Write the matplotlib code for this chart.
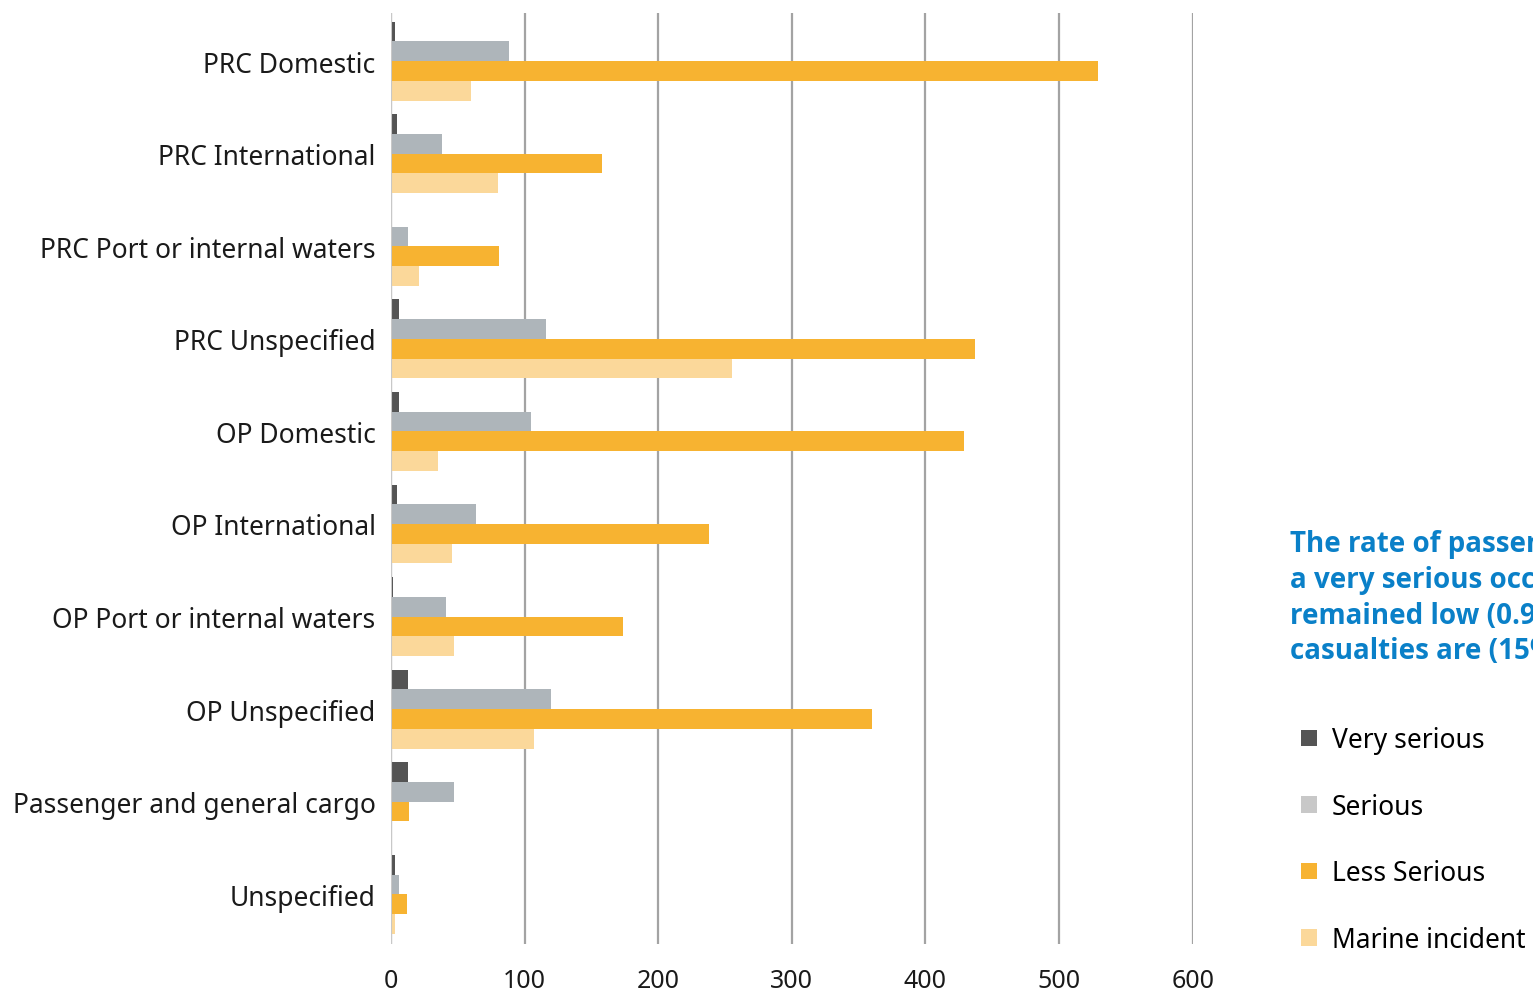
import numpy as np
import matplotlib
import matplotlib.pyplot as plt
from matplotlib.patches import Patch

matplotlib.rcParams.update({'font.size': 19, 'font.family': ['Noto Sans', 'DejaVu Sans']})

categories = ['PRC Domestic', 'PRC International', 'PRC Port or internal waters', 'PRC Unspecified',
              'OP Domestic', 'OP International', 'OP Port or internal waters', 'OP Unspecified',
              'Passenger and general cargo', 'Unspecified']
very_serious = [3, 4.5, 0, 6, 6, 4.5, 1.5, 13, 13, 3]
serious = [88, 38, 13, 116, 105, 64, 41, 120, 47, 6]
less_serious = [529, 158, 81, 437, 429, 238, 174, 360, 13.5, 12]
marine_incident = [60, 80, 21, 255, 35, 46, 47, 107, 0, 3]

series_names = ['Very serious', 'Serious', 'Less Serious', 'Marine incident']
bar_colors = ['#545454', '#aeb5ba', '#f7b331', '#fbd89a']
legend_colors = ['#545454', '#c8c8c8', '#f7b331', '#fbd89a']
x_ticks = [0, 100, 200, 300, 400, 500, 600]

note = ('The rate of passengers involved in\n'
        'a very serious occurrence has\n'
        'remained low (0.9%) while most\n'
        'casualties are (15%) less serious')

fig = plt.figure(figsize=(15.33, 9.95), dpi=100)
ax = fig.add_axes([0.255, 0.050, 0.523, 0.936])

y = np.arange(len(categories))
h = 0.213
all_series = [very_serious, serious, less_serious, marine_incident]
for i, (vals, col) in enumerate(zip(all_series, bar_colors)):
    ax.barh(y + (i - 1.5) * h, vals, height=h, color=col, zorder=3)

ax.set_xlim(0, 600)
ax.set_ylim(len(categories) - 0.5 + 0.04, -0.5 - 0.02)
ax.set_yticks(y)
ax.set_yticklabels(categories, color='#1a1a1a')
ax.set_xticks(x_ticks)
ax.set_xticklabels([str(t) for t in x_ticks], color='#1a1a1a', fontsize=18)
ax.tick_params(axis='y', length=0, pad=11)
ax.tick_params(axis='x', length=0, pad=17)
ax.grid(axis='x', color='#a3a3a3', linewidth=1.6, zorder=0)
for s in ax.spines.values():
    s.set_visible(False)
ax.axvline(0, color='#c8c8c8', linewidth=1.5, zorder=4)

fig.text(0.8415, 0.467, note, color='#0a80c8', fontweight='bold', fontsize=20,
         family=['Open Sans', 'DejaVu Sans'], va='top', ha='left', linespacing=1.3)

handles = [Patch(facecolor=c, edgecolor='none') for c in legend_colors]
fig.legend(handles, series_names, loc='upper left', bbox_to_anchor=(0.8487, 0.269),
           frameon=False, handlelength=0.6, handleheight=0.6, handletextpad=0.57,
           labelspacing=1.46, fontsize=19, borderaxespad=0, borderpad=0)

plt.savefig('out.png', dpi=100)
